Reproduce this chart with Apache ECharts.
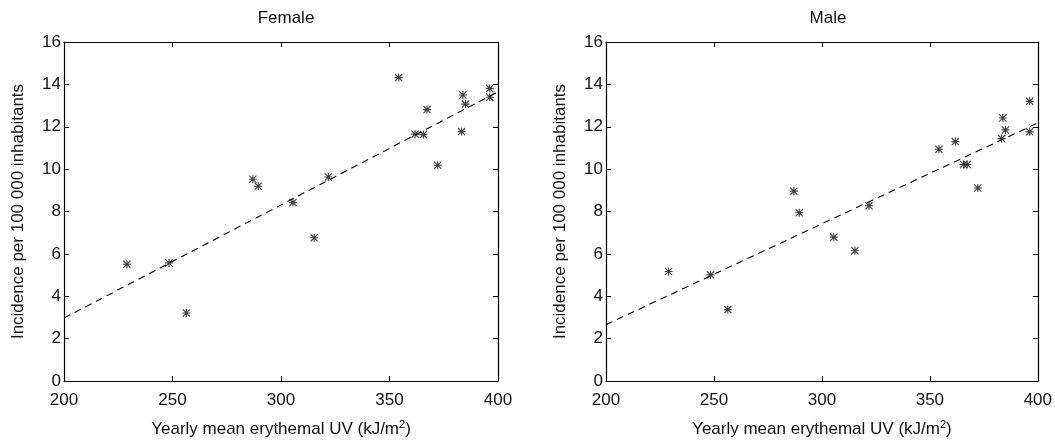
<!DOCTYPE html>
<html>
<head>
<meta charset="utf-8">
<script src="https://cdn.jsdelivr.net/npm/echarts@6/dist/echarts.min.js"></script>
<style>
html,body{margin:0;padding:0;background:#fff;}
#chart{width:1055px;height:445px;}
</style>
</head>
<body>
<div id="chart"></div>
<script>
// Data
var uv = [229, 248.4, 256.4, 287, 289.5, 305.5, 315.3, 321.8, 354.2, 361.8, 365.6, 367.3, 372.2, 383.2, 383.8, 385, 396.2, 396.2];
var femaleIncidence = [5.51, 5.57, 3.21, 9.52, 9.19, 8.42, 6.76, 9.63, 14.32, 11.65, 11.63, 12.81, 10.18, 11.77, 13.50, 13.07, 13.81, 13.39];
var maleIncidence = [5.17, 5.01, 3.37, 8.96, 7.94, 6.79, 6.15, 8.27, 10.94, 11.30, 10.22, 10.22, 9.11, 11.44, 12.41, 11.85, 13.20, 11.76];
var fitX = [200, 400];
var femaleFitY = [2.97, 13.65];
var maleFitY = [2.66, 12.18];
var panelTitles = ['Female', 'Male'];
var xTitle = 'Yearly mean erythemal UV (kJ/m{sup|2})';
var yTitle = 'Incidence per 100 000 inhabitants';

var FONT = 'Liberation Sans, Arial, Helvetica, sans-serif';
var asterisk = 'path://M4.3 0h1.4v10h-1.4z M0 4.3h10v1.4h-10z M1 0L10 9L9 10L0 1z M9 0L10 1L1 10L0 9z';

function pairs(xs, ys) { return xs.map(function (x, i) { return [x, ys[i]]; }); }

var grids = [
  {left: 64, right: 557, top: 42, bottom: 62},
  {left: 606, right: 15, top: 42, bottom: 62}
];

var xAxes = [], yAxes = [];
grids.forEach(function (g, gi) {
  var common = {
    gridIndex: gi, type: 'value', min: 200, max: 400, interval: 50,
    splitLine: {show: false},
    axisLine: {show: true, onZero: false, lineStyle: {color: '#000', width: 1.2}},
    axisTick: {show: true, inside: true, length: 5, lineStyle: {color: '#000'}}
  };
  xAxes.push(Object.assign({}, common, {
    position: 'bottom',
    axisLabel: {color: '#111', fontSize: 17, fontFamily: FONT, margin: 11},
    name: xTitle, nameLocation: 'middle', nameGap: 38,
    nameTextStyle: {color: '#111', fontSize: 17, fontFamily: FONT, lineHeight: 21,
      rich: {sup: {fontSize: 11, fontFamily: FONT, color: '#111', verticalAlign: 'top', lineHeight: 11}}}
  }));
  xAxes.push(Object.assign({}, common, {position: 'top', axisLabel: {show: false}}));
  var ycommon = {
    gridIndex: gi, type: 'value', min: 0, max: 16, interval: 2,
    splitLine: {show: false},
    axisLine: {show: true, onZero: false, lineStyle: {color: '#000', width: 1.2}},
    axisTick: {show: true, inside: true, length: 5, lineStyle: {color: '#000'}}
  };
  yAxes.push(Object.assign({}, ycommon, {
    position: 'left',
    axisLabel: {color: '#111', fontSize: 17, fontFamily: FONT, margin: 3},
    name: yTitle, nameLocation: 'middle', nameGap: 37, nameRotate: 90,
    nameTextStyle: {color: '#111', fontSize: 17, fontFamily: FONT}
  }));
  yAxes.push(Object.assign({}, ycommon, {position: 'right', axisLabel: {show: false}}));
});

var series = [];
[[femaleIncidence, femaleFitY], [maleIncidence, maleFitY]].forEach(function (d, gi) {
  series.push({
    type: 'line', xAxisIndex: gi * 2, yAxisIndex: gi * 2,
    data: pairs(fitX, d[1]), symbol: 'none', silent: true,
    lineStyle: {color: '#000', width: 1.1, type: [7, 5]}
  });
  series.push({
    type: 'scatter', xAxisIndex: gi * 2, yAxisIndex: gi * 2,
    data: pairs(uv, d[0]), symbol: asterisk, symbolSize: 8,
    itemStyle: {color: '#111'}
  });
});

var chart = echarts.init(document.getElementById('chart'), null, {renderer: 'canvas'});
chart.setOption({
  backgroundColor: '#fff',
  animation: false,
  title: panelTitles.map(function (t, i) {
    var g = grids[i];
    var cx = (g.left + (1055 - g.right)) / 2;
    return {text: t, left: cx, top: 5, textAlign: 'center',
      textStyle: {color: '#111', fontSize: 17, fontWeight: 'normal', fontFamily: FONT}};
  }),
  grid: grids,
  xAxis: xAxes,
  yAxis: yAxes,
  series: series
});
</script>
</body>
</html>
